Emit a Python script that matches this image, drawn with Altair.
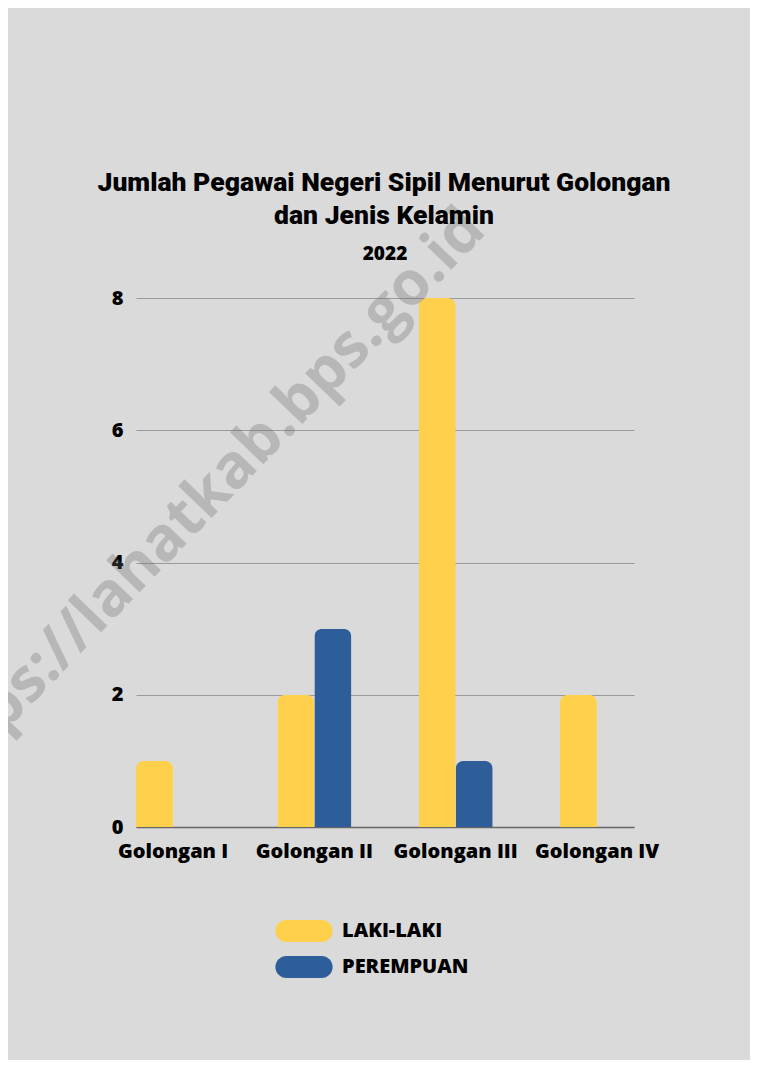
import altair as alt
import pandas as pd

categories = ["Golongan I", "Golongan II", "Golongan III", "Golongan IV"]
series = ["LAKI-LAKI", "PEREMPUAN"]
laki_laki = [1, 2, 8, 2]
perempuan = [0, 3, 1, 0]
colors = ["#FFD04B", "#2D5E99"]
y_ticks = [0, 2, 4, 6, 8]
title_lines = ["Jumlah Pegawai Negeri Sipil Menurut Golongan", "dan Jenis Kelamin"]
subtitle = "2022"
watermark = "https://lahatkab.bps.go.id"

rows = []
for c, a, b in zip(categories, laki_laki, perempuan):
    rows.append({"golongan": c, "jenis": series[0], "nilai": a})
    rows.append({"golongan": c, "jenis": series[1], "nilai": b})
df = pd.DataFrame(rows)

pill = "M-1.6,-1L1.6,-1A1,1,0,0,1,1.6,1L-1.6,1A1,1,0,0,1,-1.6,-1Z"

bars = (
    alt.Chart(df)
    .transform_filter("datum.nilai > 0")
    .mark_bar(cornerRadiusTopLeft=8, cornerRadiusTopRight=8)
    .encode(
        x=alt.X(
            "golongan:N",
            sort=categories,
            scale=alt.Scale(domain=categories, paddingInner=0.476, paddingOuter=0),
            axis=alt.Axis(
                title=None, labelAngle=0, ticks=False, tickSize=0, labelPadding=14,
                labelFont="Open Sans", labelFontSize=20, labelFontWeight=800,
                labelColor="#000000", domain=True, domainColor="#666666",
                domainWidth=1.5, grid=False,
            ),
        ),
        xOffset=alt.XOffset(
            "jenis:N", sort=series,
            scale=alt.Scale(domain=series, paddingInner=0, paddingOuter=0),
        ),
        y=alt.Y(
            "nilai:Q",
            scale=alt.Scale(domain=[0, 8], nice=False),
            axis=alt.Axis(
                title=None, values=y_ticks, ticks=False, tickSize=0, domain=False,
                labelPadding=13, labelFont="Open Sans", labelFontSize=20,
                labelFontWeight=800, labelColor="#000000",
                grid=True, gridColor="#9a9a9a", gridWidth=1,
            ),
        ),
        color=alt.Color(
            "jenis:N",
            scale=alt.Scale(domain=series, range=colors),
            legend=alt.Legend(
                title=None, orient="none", legendX=157, legendY=622,
                symbolType=pill, symbolSize=484, symbolStrokeWidth=0,
                symbolOpacity=1, labelOffset=27, rowPadding=14,
                labelFont="Open Sans", labelFontSize=20, labelFontWeight=800,
                labelColor="#000000",
            ),
        ),
    )
)

wm = (
    alt.Chart(pd.DataFrame({"t": [watermark]}))
    .mark_text(
        angle=314, fontSize=61, fontWeight="bold", font="Open Sans",
        color="#6a6a6a", opacity=0.3, align="center", baseline="middle",
    )
    .encode(text="t:N", x=alt.value(64), y=alt.value(206))
)

title1 = (
    alt.Chart(pd.DataFrame({"t": [title_lines[0]]}))
    .mark_text(font="Roboto", fontSize=26.5, fontWeight=900, color="#000000",
               align="center", baseline="alphabetic")
    .encode(text="t:N", x=alt.value(248), y=alt.value(-107))
)
title2 = (
    alt.Chart(pd.DataFrame({"t": [title_lines[1]]}))
    .mark_text(font="Roboto", fontSize=26.5, fontWeight=900, color="#000000",
               align="center", baseline="alphabetic")
    .encode(text="t:N", x=alt.value(248), y=alt.value(-74))
)
sub = (
    alt.Chart(pd.DataFrame({"t": [subtitle]}))
    .mark_text(font="Open Sans", fontSize=19, fontWeight=800, color="#000000",
               align="center", baseline="alphabetic")
    .encode(text="t:N", x=alt.value(249), y=alt.value(-38))
)

chart = (
    alt.layer(bars, wm, title1, title2, sub)
    .properties(
        width=498,
        height=529,
        autosize=alt.AutoSizeParams(type="none"),
        padding={"left": 128, "top": 290, "right": 116, "bottom": 233},
        background="#dadada",
    )
    .configure_view(stroke=None)
)

chart.save("out.html", embed_options={"renderer": "svg", "actions": False})
